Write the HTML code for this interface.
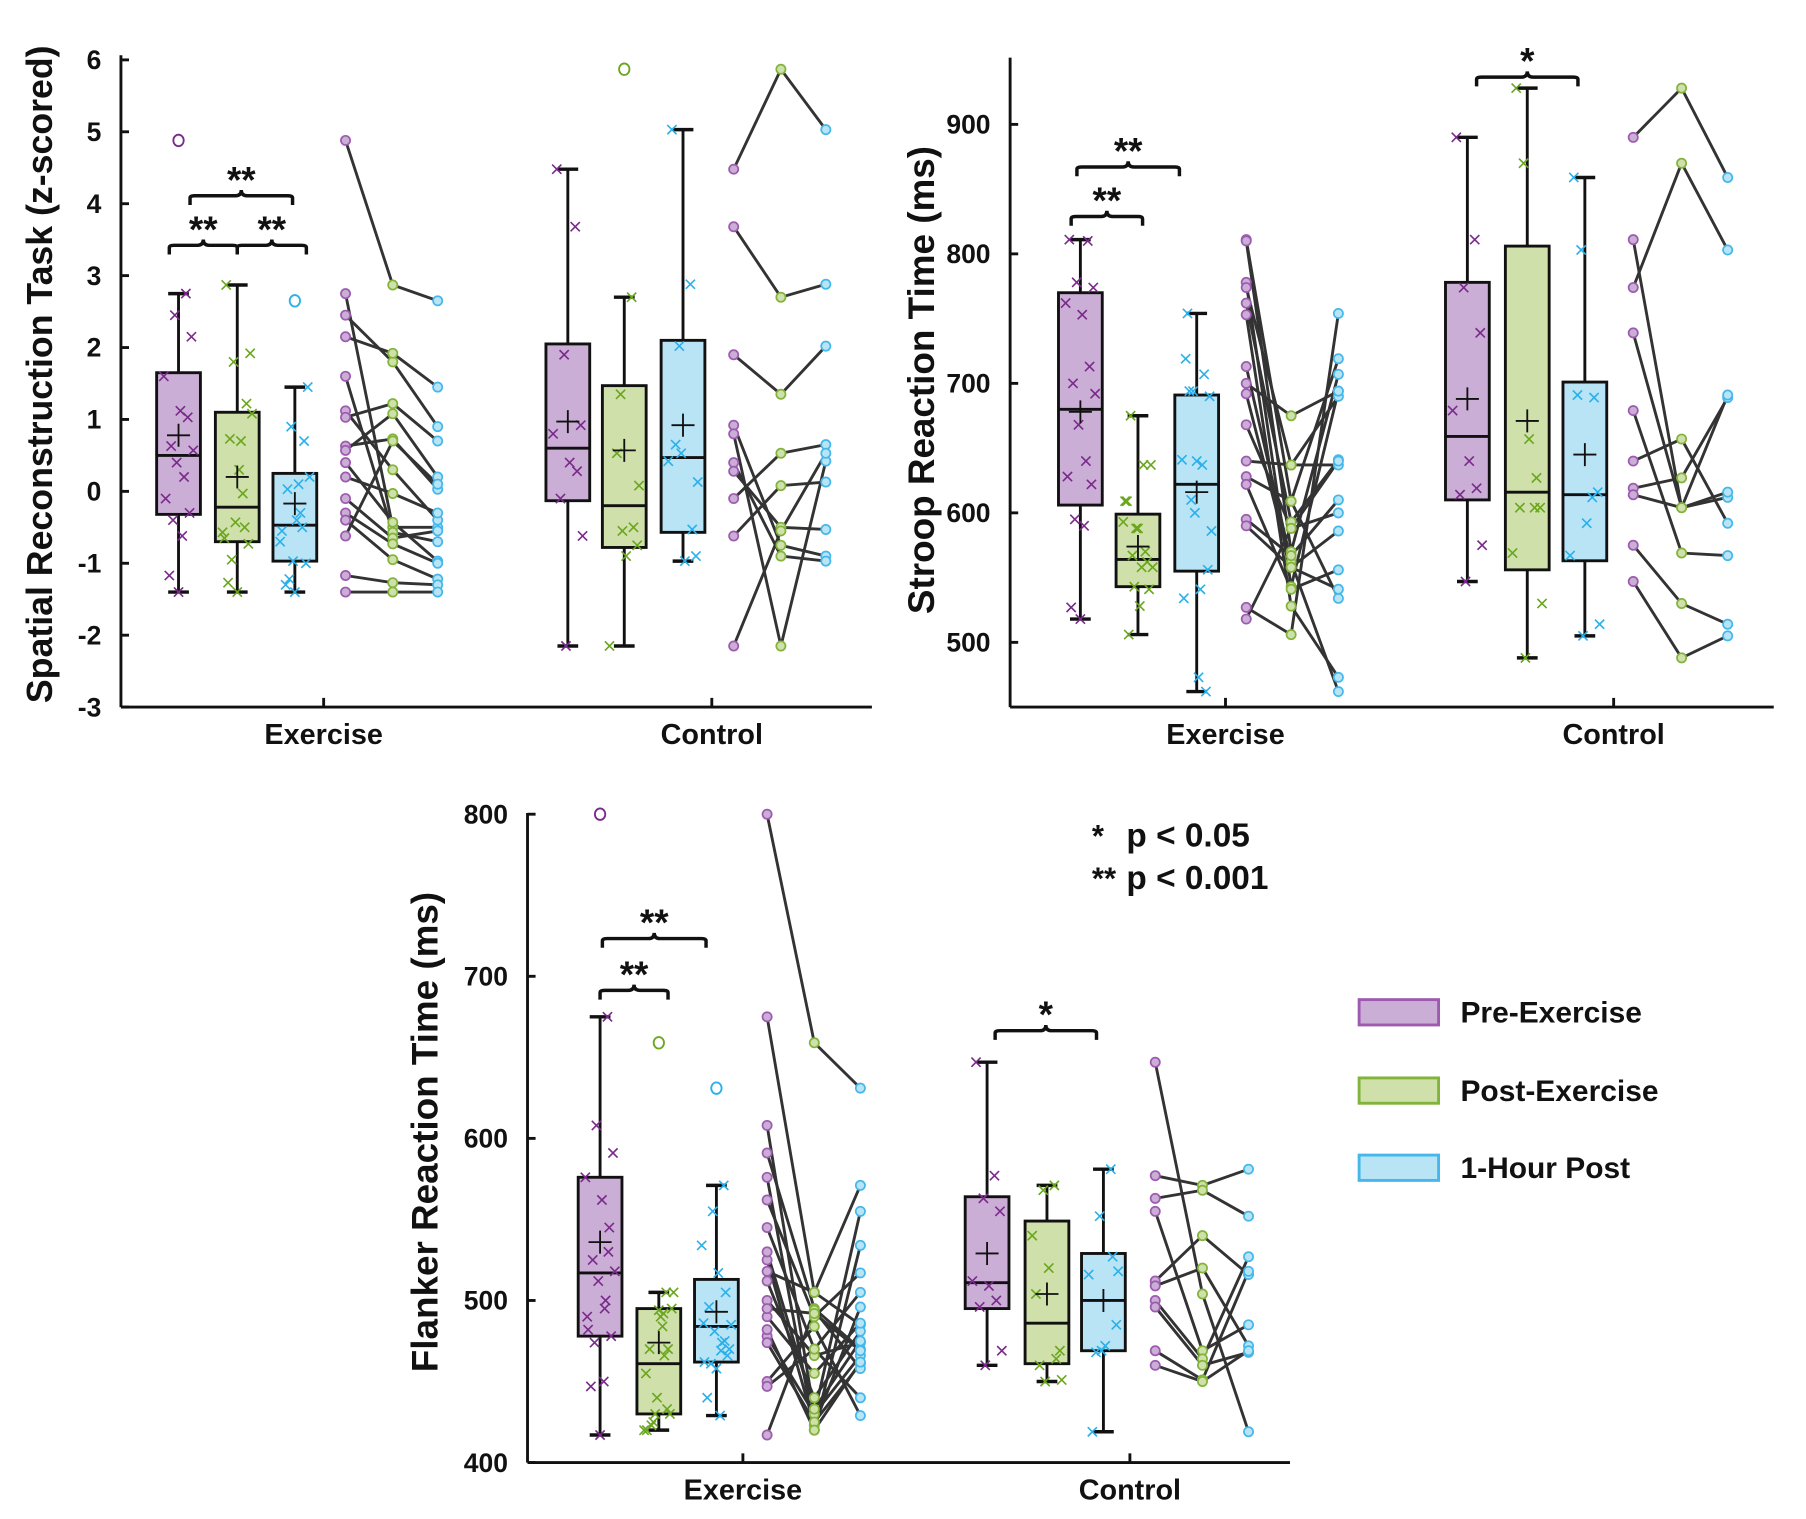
<!DOCTYPE html>
<html><head><meta charset="utf-8"><style>
html,body{margin:0;padding:0;background:#fff}
svg{display:block}
text{font-family:"Liberation Sans",Arial,sans-serif;font-weight:bold;fill:#111}
</style></head><body>
<svg id="chart" width="1806" height="1519" viewBox="0 0 1568 1319" preserveAspectRatio="none" xmlns="http://www.w3.org/2000/svg"></svg>
<script>
// ---- Panel 1: Spatial reconstruction (z-scored) ----
const p1Ticks = [6,5,4,3,2,1,0,-1,-2,-3];
const p1Categories = ["Exercise","Control"];
const p1ExStats = [[-1.4,-0.32,0.5,1.65,2.75,0.78],[-1.4,-0.7,-0.22,1.1,2.87,0.2],[-1.4,-0.97,-0.47,0.25,1.45,-0.17]];
const p1CtStats = [[-2.15,-0.13,0.6,2.05,4.48,0.97],[-2.15,-0.78,-0.2,1.47,2.7,0.57],[-0.97,-0.57,0.47,2.1,5.03,0.92]];
const p1ExOut = [[4.88],[],[2.65]];
const p1CtOut = [[],[5.87],[]];
const p1ExPairs = [[4.88,2.87,2.65],[2.75,-0.5,-0.5],[2.45,1.8,0.9],[2.15,1.92,1.45],[1.6,-0.57,-0.7],[1.12,0.3,-0.4],[1.03,1.22,0.7],[0.63,0.73,0.03],[0.57,1.08,0.2],[0.4,-0.43,-0.97],[0.2,-0.03,-0.3],[-0.1,-0.65,-0.55],[-0.3,-0.73,-1.0],[-0.4,-0.95,-1.22],[-0.62,0.7,0.1],[-1.17,-1.27,-1.3],[-1.4,-1.4,-1.4]];
const p1CtPairs = [[4.48,5.87,5.03],[3.68,2.7,2.88],[1.9,1.35,2.02],[0.92,-0.75,-0.9],[0.8,-2.15,0.42],[0.4,-0.9,-0.97],[0.28,-0.5,-0.53],[-0.1,0.53,0.65],[-0.62,0.08,0.13],[-2.15,-0.55,0.53]];
// ---- Panel 2: Stroop ----
const p2Ticks = [900,800,700,600,500];
const p2Categories = ["Exercise","Control"];
const p2ExStats = [[518,606,680,770,811,678],[506,543,564,599,675,574],[462,555,622,691,754,616]];
const p2CtStats = [[547,610,659,778,890,688],[488,556,616,806,928,671],[505,563,614,701,859,645]];
const p2ExOut = [[],[],[]];
const p2CtOut = [[],[],[]];
const p2ExPairs = [[811,609,719],[810,570,707],[778,543,694],[774,637,690],[762,593,641],[753,528,473],[713,562,462],[700,675,694],[692,558,586],[668,588,600],[640,637,637],[628,609,534],[622,541,556],[595,567,610],[590,558,541],[527,506,754],[518,588,640]];
const p2CtPairs = [[890,928,859],[811,604,612],[774,870,803],[739,604,616],[679,569,567],[640,657,592],[619,627,689],[614,604,691],[575,530,514],[547,488,505]];
// ---- Panel 3: Flanker ----
const p3Ticks = [800,700,600,500,400];
const p3Categories = ["Exercise","Control"];
const p3ExStats = [[417,478,517,576,675,536],[420,430,461,495,505,474],[429,462,484,513,571,493]];
const p3CtStats = [[460,495,511,564,647,529],[450,461,486,549,571,504],[419,469,500,529,581,500]];
const p3ExOut = [[800],[659],[631]];
const p3CtOut = [[],[],[]];
const p3ExPairs = [[800,659,631],[675,505,571],[608,430,555],[591,495,470],[576,420,534],[562,490,517],[545,470,505],[525,423,496],[518,505,485],[512,440,481],[500,466,474],[490,455,486],[478,430,466],[474,425,461],[450,484,429],[447,470,440],[417,494,458],[530,433,475],[482,420,462],[495,492,469]];
const p3CtPairs = [[647,504,419],[577,571,581],[563,568,552],[555,469,485],[512,540,516],[509,520,472],[500,464,527],[496,460,468],[469,451,518],[460,450,469]];
const legendLabels = ["Pre-Exercise","Post-Exercise","1-Hour Post"];

const NS="http://www.w3.org/2000/svg";
const svg=document.getElementById('chart');
const FILL=["#cbaed6","#cfe0aa","#b9e4f6"], STROKE=["#9d5bb0","#82b43c","#44b8ea"], MARK=["#7a2a8a","#6aa61e","#2ab0ea"];
function el(tag,attrs,parent){const e=document.createElementNS(NS,tag);for(const k in attrs)e.setAttribute(k,attrs[k]);(parent||svg).appendChild(e);return e;}
function txt(s,attrs,parent){const t=el('text',attrs,parent);t.textContent=s;return t;}
const JIT=[-0.6,0.4,-0.2,0.7,-0.8,0.1,0.5,-0.4,0.8,-0.1,0.3,-0.7,0.6,-0.3,0.2,-0.5,0.0,0.45,-0.65,0.25];

function panel(cfg){
  const g=el('g',{});
  
  
  const y=v=>cfg.y0+(v-cfg.vmin)/(cfg.vmax-cfg.vmin)*(cfg.y1-cfg.y0);
  const ya=el('line',{x1:cfg.ax,y1:cfg.ytop,x2:cfg.ax,y2:cfg.y0,stroke:"#111","stroke-width":2.5},g);
  
  const xa=el('line',{x1:cfg.ax,y1:cfg.y0,x2:cfg.axr,y2:cfg.y0,stroke:"#111","stroke-width":2.5},g);
  
  cfg.ticks.forEach(v=>{
    el('line',{x1:cfg.ax,y1:y(v),x2:cfg.ax+7,y2:y(v),stroke:"#111","stroke-width":2.5},g);
    const t=txt(String(v),{x:cfg.ax-17,y:y(v)+8,"text-anchor":"end","font-size":23},g);
    
  });
  cfg.cats.forEach((c,i)=>{
    const cx=cfg.catX[i];
    el('line',{x1:cx,y1:cfg.y0,x2:cx,y2:cfg.y0-8,stroke:"#111","stroke-width":2.5},g);
    const t=txt(c,{x:cx,y:cfg.y0+32,"text-anchor":"middle","font-size":25},g);
    
  });
  const yl=txt(cfg.ylabel,{x:0,y:0,"text-anchor":"middle","font-size":cfg.ylfs,transform:`translate(${cfg.ylx},${cfg.yly}) rotate(-90)`},g);
  
  [[cfg.exStats,cfg.exOut,cfg.exPairs,cfg.exBox,cfg.exDots],[cfg.ctStats,cfg.ctOut,cfg.ctPairs,cfg.ctBox,cfg.ctDots]].forEach(([stats,outs,pairs,bx,dx],gi)=>{
    stats.forEach((s,k)=>{
      const cx=bx[k],hw=19;
      const b=el('g',{},g);
      
      
      el('line',{x1:cx,y1:y(s[0]),x2:cx,y2:y(s[4]),stroke:"#111","stroke-width":2.5},b);
      el('line',{x1:cx-9,y1:y(s[0]),x2:cx+9,y2:y(s[0]),stroke:"#111","stroke-width":3},b);
      el('line',{x1:cx-9,y1:y(s[4]),x2:cx+9,y2:y(s[4]),stroke:"#111","stroke-width":3},b);
      el('rect',{x:cx-hw,y:y(s[3]),width:2*hw,height:y(s[1])-y(s[3]),fill:FILL[k],stroke:"#111","stroke-width":2.5},b);
      el('line',{x1:cx-hw,y1:y(s[2]),x2:cx+hw,y2:y(s[2]),stroke:"#111","stroke-width":2.5},b);
      pairs.forEach((p,i)=>{
        if(p[k]<s[0]-1e-9||p[k]>s[4]+1e-9)return;
        const px=cx+JIT[i%JIT.length]*16,py=y(p[k]);
        el('path',{d:`M${px-4},${py-4}L${px+4},${py+4}M${px-4},${py+4}L${px+4},${py-4}`,stroke:MARK[k],"stroke-width":1.4},b);
      });
      el('path',{d:`M${cx-10},${y(s[5])}H${cx+10}M${cx},${y(s[5])-10}V${y(s[5])+10}`,stroke:"#111","stroke-width":1.6},b);
      outs[k].forEach(o=>{el('ellipse',{cx:cx,cy:y(o),rx:4.5,ry:5,fill:"none",stroke:MARK[k],"stroke-width":1.6},b);});
    });
    const lg=el('g',{},g);
    
    
    pairs.forEach(p=>{
      el('polyline',{points:p.map((v,k)=>`${dx[k]},${y(v)}`).join(' '),fill:"none",stroke:"#333","stroke-width":2.5},lg);
    });
    pairs.forEach(p=>{p.forEach((v,k)=>{el('circle',{cx:dx[k],cy:y(v),r:4,fill:FILL[k],stroke:STROKE[k],"stroke-width":1.5},lg);});});
  });
  cfg.brackets.forEach(([x1,x2,yy,lab])=>{
    const bg=el('g',{},g);
    
    const m=(x1+x2)/2;
    el('path',{d:`M${x1},${yy+8}V${yy+2}Q${x1},${yy} ${x1+4},${yy}H${m-5}Q${m},${yy} ${m},${yy-5}Q${m},${yy} ${m+5},${yy}H${x2-4}Q${x2},${yy} ${x2},${yy+2}V${yy+8}`,fill:"none",stroke:"#111","stroke-width":3},bg);
    txt(lab,{x:m,y:yy-3,"text-anchor":"middle","font-size":32},bg);
  });
}

panel({name:'spatial-panel',ax:105,axr:757,ytop:48,y0:614,y1:52,vmin:-3,vmax:6,ticks:p1Ticks,cats:p1Categories,catX:[281,618],
  ylabel:"Spatial Reconstruction Task (z-scored)",ylx:45,yly:325,ylfs:31,
  exStats:p1ExStats,ctStats:p1CtStats,exOut:p1ExOut,ctOut:p1CtOut,exPairs:p1ExPairs,ctPairs:p1CtPairs,
  exBox:[155,206,256],exDots:[300,341,380],ctBox:[493,542,593],ctDots:[637,678,717],
  brackets:[[147,206,213,"**"],[206,266,213,"**"],[165,254,170,"**"]]});
panel({name:'stroop-panel',ax:877,axr:1540,ytop:50,y0:614,y1:108,vmin:450,vmax:900,ticks:p2Ticks,cats:p2Categories,catX:[1064,1401],
  ylabel:"Stroop Reaction Time (ms)",ylx:811,yly:330,ylfs:32,
  exStats:p2ExStats,ctStats:p2CtStats,exOut:p2ExOut,ctOut:p2CtOut,exPairs:p2ExPairs,ctPairs:p2CtPairs,
  exBox:[938,988,1039],exDots:[1082,1121,1162],ctBox:[1274,1326,1376],ctDots:[1418,1460,1500],
  brackets:[[930,992,188,"**"],[935,1024,145,"**"],[1282,1370,67,"*"]]});
panel({name:'flanker-panel',ax:458,axr:1120,ytop:706,y0:1270,y1:707,vmin:400,vmax:800,ticks:p3Ticks,cats:p3Categories,catX:[645,981],
  ylabel:"Flanker Reaction Time (ms)",ylx:380,yly:983,ylfs:32,
  exStats:p3ExStats,ctStats:p3CtStats,exOut:p3ExOut,ctOut:p3CtOut,exPairs:p3ExPairs,ctPairs:p3CtPairs,
  exBox:[521,572,622],exDots:[666,707,747],ctBox:[857,909,958],ctDots:[1003,1044,1084],
  brackets:[[521,580,860,"**"],[523,613,815,"**"],[864,952,895,"*"]]});

const note=el('g',{});

txt("*",{x:948,y:735,"font-size":27},note);txt("p < 0.05",{x:978,y:735,"font-size":29},note);
txt("**",{x:948,y:772,"font-size":27},note);txt("p < 0.001",{x:978,y:772,"font-size":29},note);
const lgd=el('g',{});

const legY=[868,936,1003];
legendLabels.forEach((l,k)=>{
  const e=el('g',{},lgd);
  
  el('rect',{x:1180,y:legY[k],width:69,height:22,fill:FILL[k],stroke:STROKE[k],"stroke-width":2.5},e);
  txt(l,{x:1268,y:legY[k]+20,"font-size":26},e);
});
</script>
</body></html>
